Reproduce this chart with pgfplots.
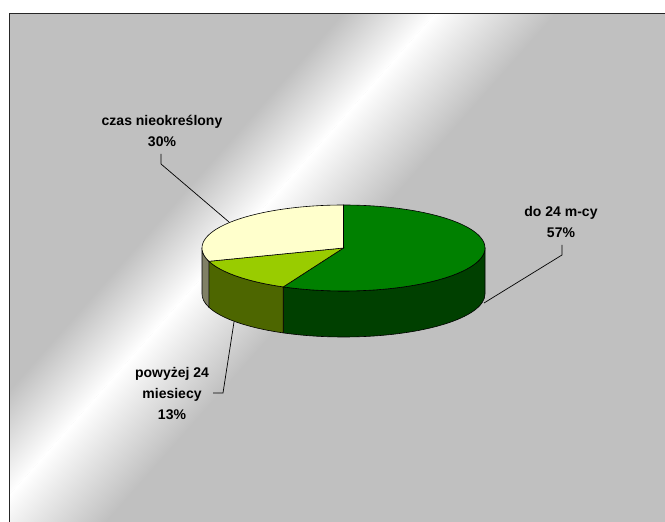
\documentclass[border=0pt]{standalone}
\usepackage{pgfplots}
\pgfplotsset{compat=1.18}
\usepackage{fontspec}
\setmainfont{Liberation Sans}
\definecolor{bggray}{HTML}{C0C0C0}
\definecolor{gtop}{HTML}{008000}
\definecolor{gside}{HTML}{004000}
\definecolor{ltop}{HTML}{99CC00}
\definecolor{lside}{HTML}{4D6600}
\definecolor{ctop}{HTML}{FFFFCC}
\definecolor{cside}{HTML}{808066}
% data (percent)
\def\vA{57}% do 24 m-cy
\def\vB{13}% powyzej 24 miesiecy
\def\vC{30}% czas nieokreslony
% geometry (pixels = pt)
\def\cx{343.5}\def\cy{274}\def\rx{141.5}\def\ry{43}\def\dep{46}
\pgfmathsetmacro\aA{90-3.6*\vA}
\pgfmathsetmacro\aB{\aA-3.6*\vB}
\pgfmathsetmacro\aC{\aB-3.6*\vC}
\begin{document}
\begin{tikzpicture}
\useasboundingbox (0,0) rectangle (665pt,522pt);
\fill[white] (0,0) rectangle (665pt,522pt);
\begin{scope}
\clip (9.5pt,0pt) rectangle (665pt,508.5pt);
\fill[bggray] (0,0) rectangle (665pt,522pt);
\begin{scope}[transform canvas={shift={(14pt,32pt)},rotate=48.5}]
\shade[top color=white,bottom color=bggray] (-900pt,-90pt) rectangle (900pt,0.3pt);
\shade[top color=bggray,bottom color=white] (-900pt,0pt) rectangle (900pt,70pt);
\end{scope}
\end{scope}
\draw[line width=1.6pt,black!85] (9.5pt,0pt) -- (9.5pt,508.5pt) -- (665pt,508.5pt);
\begin{axis}[at={(0pt,0pt)},anchor=origin,scale only axis,width=665pt,height=522pt,
  xmin=0,xmax=665,ymin=0,ymax=522,hide axis,clip=false]
% leader lines
\draw[black,line width=0.7pt] (axis cs:161,368) -- (axis cs:161,358) -- (axis cs:229,300);
\draw[black,line width=0.7pt] (axis cs:562,277) -- (axis cs:562,267) -- (axis cs:484,219);
\draw[black,line width=0.7pt] (axis cs:234,200) -- (axis cs:223,129) -- (axis cs:213,129);
% side walls
\addplot[fill=gside,draw=black,line width=0.6pt,domain=\aA:0,samples=40,variable=\t]
  ({\cx+\rx*cos(\t)},{\cy+\ry*sin(\t)}) -- (axis cs:{\cx+\rx},{\cy-\dep})
  arc[start angle=0,end angle=\aA,x radius=\rx pt,y radius=\ry pt] -- cycle;
\addplot[fill=lside,draw=black,line width=0.6pt,domain=\aB:\aA,samples=30,variable=\t]
  ({\cx+\rx*cos(\t)},{\cy+\ry*sin(\t)}) -- (axis cs:{\cx+\rx*cos(\aA)},{\cy+\ry*sin(\aA)-\dep})
  arc[start angle=\aA,end angle=\aB,x radius=\rx pt,y radius=\ry pt] -- cycle;
\addplot[fill=cside,draw=black,line width=0.6pt,domain=-180:\aB,samples=20,variable=\t]
  ({\cx+\rx*cos(\t)},{\cy+\ry*sin(\t)}) -- (axis cs:{\cx+\rx*cos(\aB)},{\cy+\ry*sin(\aB)-\dep})
  arc[start angle=\aB,end angle=-180,x radius=\rx pt,y radius=\ry pt] -- cycle;
% top faces
\addplot[fill=gtop,draw=black,line width=0.6pt,domain=\aA:90,samples=90,variable=\t]
  ({\cx+\rx*cos(\t)},{\cy+\ry*sin(\t)}) -- (axis cs:\cx,\cy) -- cycle;
\addplot[fill=ltop,draw=black,line width=0.6pt,domain=\aB:\aA,samples=30,variable=\t]
  ({\cx+\rx*cos(\t)},{\cy+\ry*sin(\t)}) -- (axis cs:\cx,\cy) -- cycle;
\addplot[fill=ctop,draw=black,line width=0.6pt,domain=\aC:\aB,samples=50,variable=\t]
  ({\cx+\rx*cos(\t)},{\cy+\ry*sin(\t)}) -- (axis cs:\cx,\cy) -- cycle;
% labels
\node[align=center,font=\fontsize{14}{21}\selectfont\bfseries] at (axis cs:162,391.5) {czas nieokreślony\\30\%};
\node[align=center,font=\fontsize{14}{21}\selectfont\bfseries] at (axis cs:561,300) {do 24 m-cy\\57\%};
\node[align=center,font=\fontsize{14}{21}\selectfont\bfseries] at (axis cs:172,128) {powyżej 24\\miesiecy\\13\%};
\end{axis}
\end{tikzpicture}
\end{document}
